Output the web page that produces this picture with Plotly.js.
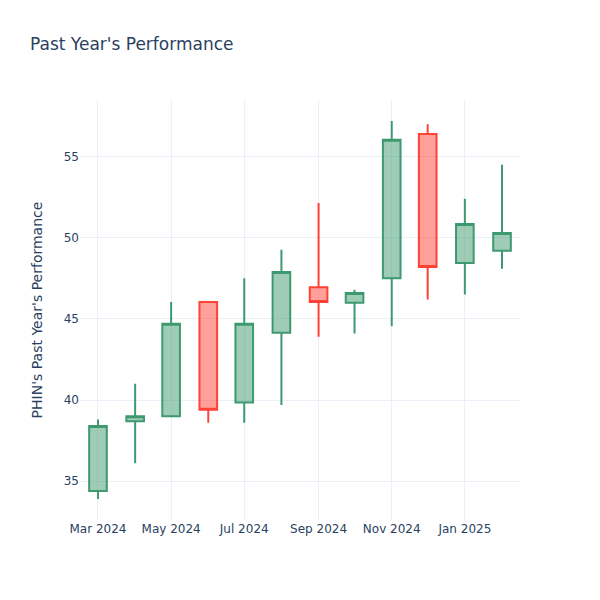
<!DOCTYPE html>
<html><head><meta charset="utf-8">
<script src="https://cdn.plot.ly/plotly-3.0.1.min.js"></script>
<style>body{margin:0}</style>
</head><body>
<div id="chart" style="width:600px;height:600px"></div>
<script>
const dates = ["2024-03-01","2024-04-01","2024-05-01","2024-06-01","2024-07-01","2024-08-01","2024-09-01","2024-10-01","2024-11-01","2024-12-01","2025-01-01","2025-02-01"];
const openVals  = [34.4, 38.7, 39.0, 46.05, 39.85, 44.15, 46.95, 46.0, 47.5, 56.4, 48.45, 49.2];
const highVals  = [38.8, 41.0, 46.05, 46.05, 47.5, 49.27, 52.15, 46.8, 57.2, 57.0, 52.4, 54.5];
const lowVals   = [33.9, 36.1, 39.0, 38.6, 38.6, 39.7, 43.9, 44.1, 44.55, 46.2, 46.5, 48.1];
const closeVals = [38.4, 39.0, 44.7, 39.4, 44.7, 47.9, 46.05, 46.6, 56.05, 48.2, 50.85, 50.3];

Plotly.newPlot("chart", [{
  type: "candlestick",
  x: dates, open: openVals, high: highVals, low: lowVals, close: closeVals
}], {
  width: 600, height: 600,
  font: {family: "DejaVu Sans, Verdana, sans-serif", color: "#2a3f5f"},
  paper_bgcolor: "white", plot_bgcolor: "white",
  title: {text: "Past Year's Performance", x: 0.05},
  xaxis: {rangeslider: {visible: false}, gridcolor: "#EBF0F8", showline: false, zeroline: false, ticks: ""},
  yaxis: {title: {text: "PHIN's Past Year's Performance"}, gridcolor: "#EBF0F8", showline: false, zeroline: false, ticks: ""},
  showlegend: false
}, {displayModeBar: false});
</script>
</body></html>
